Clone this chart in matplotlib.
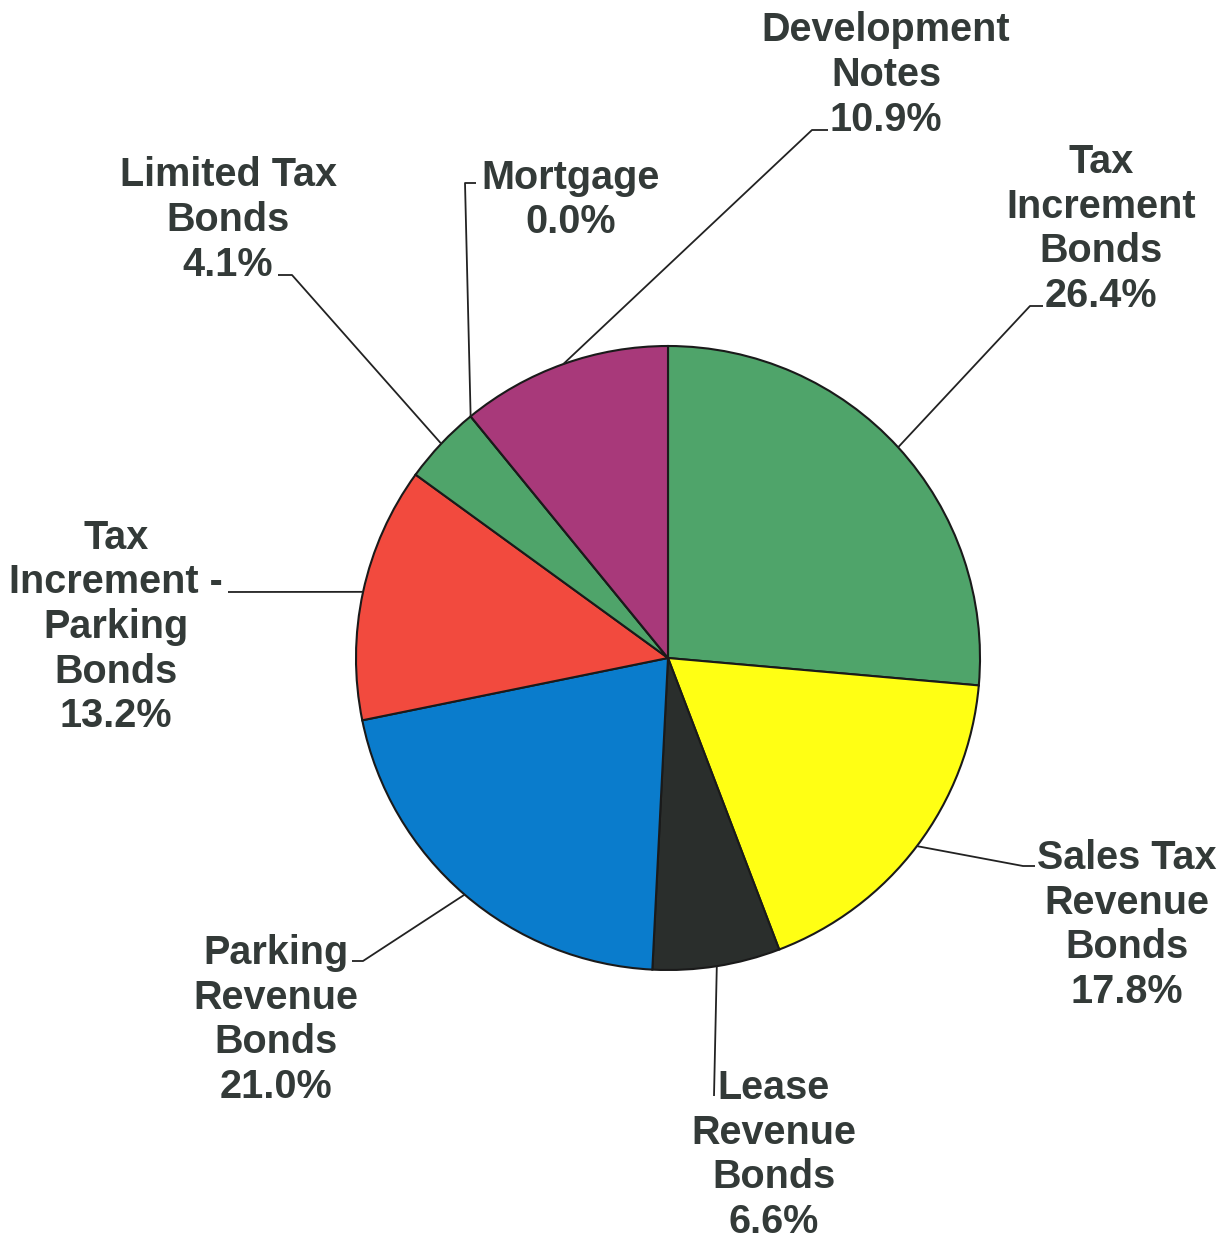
import numpy as np
import matplotlib
matplotlib.use('Agg')
import matplotlib.pyplot as plt

# data (percent shares, clockwise from 12 o'clock)
names = ['Tax\nIncrement\nBonds', 'Sales Tax\nRevenue\nBonds', 'Lease\nRevenue\nBonds',
         'Parking\nRevenue\nBonds', 'Tax\nIncrement -\nParking\nBonds',
         'Limited Tax\nBonds', 'Mortgage', 'Development\nNotes']
shares = [26.4, 17.8, 6.6, 21.0, 13.2, 4.1, 0.0, 10.9]
colors = ['#4fa46a', '#ffff14', '#2a2e2c', '#0a7ccc', '#f24a3e', '#4fa46a', '#4fa46a', '#a8397a']

# layout in pixels (y grows downward)
W, H = 1225, 1239
cx, cy, R = 668, 658, 312
text_pos = [(1101, 229), (1127, 925), (774, 1155), (276, 1020),
            (116, 627), (228, 220), (571, 200), (886, 75)]
# elbow + end of each leader line
leaders = [[(1030, 306), (1043, 306)],
           [(1023, 866), (1035, 866)],
           [(714, 1096)],
           [(363, 961), (352, 961)],
           [(228, 592)],
           [(292, 275), (278, 275)],
           [(465, 183), (476, 183)],
           [(812, 130), (828, 130)]]

fig = plt.figure(figsize=(W / 100, H / 100), dpi=100)
ax = fig.add_axes([0, 0, 1, 1])
ax.set_xlim(0, W)
ax.set_ylim(H, 0)   # inverted y: data ccw == visual clockwise
ax.set_aspect('equal')
ax.axis('off')

wedges, _ = ax.pie(shares, colors=colors, startangle=-90, counterclock=True,
                   radius=R, center=(cx, cy),
                   wedgeprops=dict(edgecolor='#1a1a1a', linewidth=1.5))
ax.set_xlim(0, W)
ax.set_ylim(H, 0)

for w, name, val, (tx, ty), pts in zip(wedges, names, shares, text_pos, leaders):
    mid = np.deg2rad((w.theta1 + w.theta2) / 2)
    x0 = cx + R * np.cos(mid)
    y0 = cy + R * np.sin(mid)
    xs = [x0] + [p[0] for p in pts]
    ys = [y0] + [p[1] for p in pts]
    ax.plot(xs, ys, color='#222222', lw=1.3, solid_capstyle='butt')
    ax.text(tx, ty, '%s\n%.1f%%' % (name, val), ha='center', va='center',
            multialignment='center', fontsize=28.5, fontweight='bold',
            family='Liberation Sans', color='#333a38', linespacing=1.22)

fig.savefig('out.png', dpi=100, facecolor='white')
